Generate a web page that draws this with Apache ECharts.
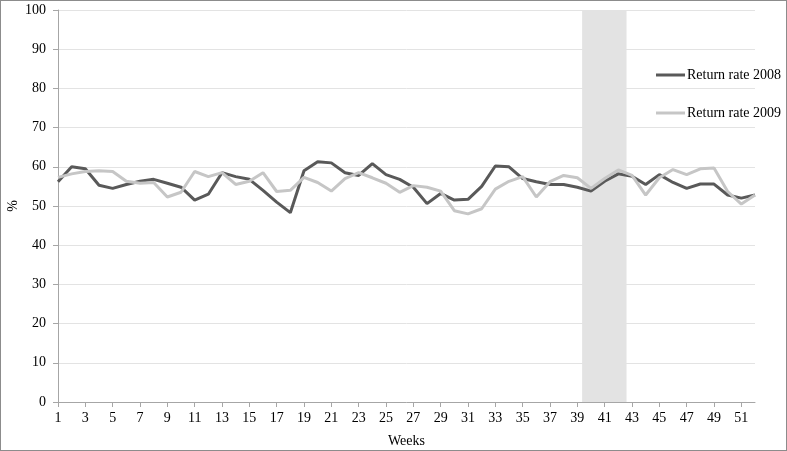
<!DOCTYPE html>
<html>
<head>
<meta charset="utf-8">
<script src="https://cdn.jsdelivr.net/npm/echarts@6/dist/echarts.min.js"></script>
<style>
  html, body { margin: 0; padding: 0; background: #fff; }
  #chart1 { width: 787px; height: 451px; box-sizing: border-box; border: 1px solid #8c8c8c; }
</style>
</head>
<body>
<div id="chart1"></div>
<script>
var weeks = [];
for (var i = 1; i <= 52; i++) weeks.push(String(i));

var rate2008 = [56.2, 60.0, 59.5, 55.3, 54.5, 55.5, 56.3, 56.8, 55.8, 54.8,
  51.5, 53.0, 58.5, 57.5, 56.8, 54.0, 51.0, 48.3, 59.0, 61.3,
  61.0, 58.5, 57.8, 60.8, 58.0, 56.8, 54.8, 50.6, 53.2, 51.5,
  51.7, 55.0, 60.2, 60.0, 57.0, 56.2, 55.5, 55.5, 54.8, 53.8,
  56.3, 58.2, 57.6, 55.5, 58.0, 56.0, 54.5, 55.6, 55.6, 52.8,
  52.0, 52.8];

var rate2009 = [57.3, 58.2, 58.8, 59.0, 58.8, 56.3, 55.8, 56.0, 52.3, 53.5,
  58.8, 57.5, 58.5, 55.5, 56.3, 58.5, 53.7, 54.0, 57.3, 56.0,
  53.8, 57.0, 58.5, 57.2, 55.8, 53.5, 55.2, 54.8, 53.8, 48.8,
  48.0, 49.3, 54.3, 56.3, 57.5, 52.3, 56.2, 57.8, 57.2, 54.5,
  57.0, 59.2, 57.8, 52.8, 57.2, 59.3, 58.0, 59.5, 59.7, 53.7,
  50.5, 52.8];

var shadeWeeks = [39.35, 42.6];

var serif = '"Liberation Serif", "DejaVu Serif", serif';

var dom = document.getElementById('chart1');
var myChart = echarts.init(dom, null, { renderer: 'canvas' });

var option = {
  animation: false,
  color: ['#595959', '#c6c6c6'],
  grid: { left: 57, right: 31, top: 9, bottom: 48, containLabel: false, outerBoundsMode: 'none' },
  legend: {
    orient: 'vertical',
    left: 650,
    top: 61,
    itemWidth: 29,
    itemHeight: 3,
    itemGap: 22,
    icon: 'rect',
    textStyle: { fontFamily: serif, fontSize: 14, color: '#000', lineHeight: 16, padding: [0, 0, 0, -3] },
    data: ['Return rate 2008', 'Return rate 2009']
  },
  xAxis: [{
    type: 'category',
    boundaryGap: false,
    data: weeks,
    name: 'Weeks',
    nameLocation: 'middle',
    nameGap: 32,
    nameMoveOverlap: false,
    nameTextStyle: { fontFamily: serif, fontSize: 14, color: '#000' },
    axisLine: { lineStyle: { color: '#a6a6a6', width: 1 } },
    axisTick: { interval: 1, length: 5, lineStyle: { color: '#a6a6a6' } },
    axisLabel: { interval: 1, margin: 9, fontFamily: serif, fontSize: 14, color: '#000' },
    splitLine: { show: false }
  }, {
    type: 'value',
    min: 1,
    max: 52,
    show: false
  }],
  yAxis: {
    type: 'value',
    min: 0,
    max: 100,
    interval: 10,
    name: '%',
    nameLocation: 'middle',
    nameGap: 38,
    nameMoveOverlap: false,
    nameTextStyle: { fontFamily: serif, fontSize: 14, color: '#000' },
    axisLine: { show: true, lineStyle: { color: '#a6a6a6', width: 1 } },
    axisTick: { show: true, length: 5, lineStyle: { color: '#a6a6a6' } },
    axisLabel: { margin: 12, fontFamily: serif, fontSize: 14, color: '#000' },
    splitLine: { lineStyle: { color: '#e3e3e3', width: 1 } }
  },
  series: [
    {
      type: 'line',
      xAxisIndex: 1,
      data: [],
      silent: true,
      markArea: {
        silent: true,
        itemStyle: { color: '#e3e3e3' },
        data: [[{ xAxis: shadeWeeks[0] }, { xAxis: shadeWeeks[1] }]]
      }
    },
    {
      name: 'Return rate 2008',
      type: 'line',
      data: rate2008,
      showSymbol: false,
      lineStyle: { width: 3, color: '#595959' },
      itemStyle: { color: '#595959' }
    },
    {
      name: 'Return rate 2009',
      type: 'line',
      data: rate2009,
      showSymbol: false,
      lineStyle: { width: 3, color: '#c6c6c6' },
      itemStyle: { color: '#c6c6c6' }
    }
  ]
};

myChart.setOption(option);
window.addEventListener('resize', myChart.resize);
</script>
</body>
</html>
